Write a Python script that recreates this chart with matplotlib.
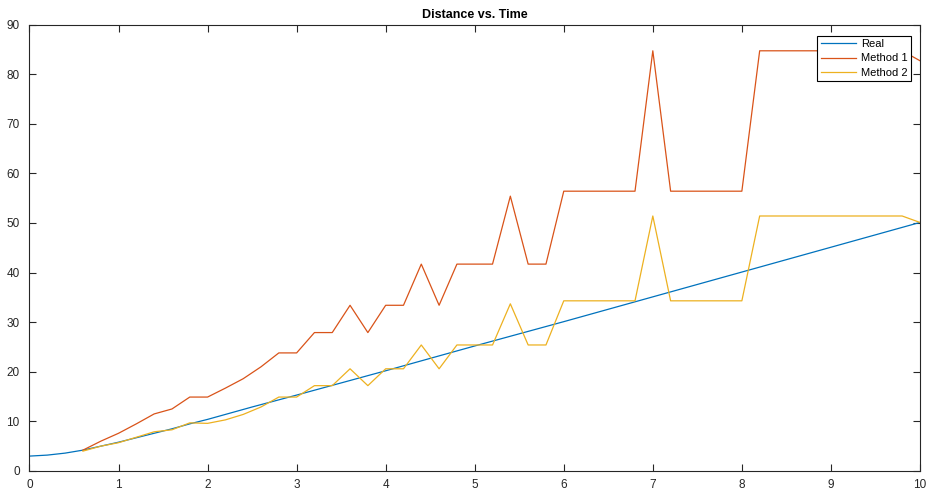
import numpy as np
from matplotlib import pyplot as plt

plt.rcParams['font.family'] = ['Liberation Sans', 'DejaVu Sans']

# real distance
t_real = [0, 0.2, 0.4, 0.6, 0.8, 1.0, 1.2, 1.4, 1.6, 1.8, 2.0, 2.5, 3, 4, 5, 6, 7, 8, 9, 10]
d_real = [3.0, 3.2, 3.6, 4.2, 5.0, 5.8, 6.7, 7.6, 8.5, 9.5, 10.4, 12.9, 15.3, 20.2, 25.2,
          30.1, 35.1, 40.1, 45.1, 50.1]

# estimates, sampled every 0.2 from t=0.6
t_est = [round(0.6 + 0.2 * i, 1) for i in range(48)]
d_method1 = [4.2, 6.0, 7.6, 9.5, 11.5, 12.5, 14.9, 14.9, 16.7, 18.6, 21.0, 23.8, 23.8,
             27.9, 27.9, 33.4, 27.9, 33.4, 33.4, 41.7, 33.4, 41.7, 41.7, 41.7, 55.4, 41.7,
             41.7, 56.4, 56.4, 56.4, 56.4, 56.4, 84.7, 56.4, 56.4, 56.4, 56.4, 56.4, 84.7,
             84.7, 84.7, 84.7, 84.7, 84.7, 84.7, 84.7, 84.7, 82.7]
d_method2 = [4.0, 5.0, 5.7, 6.8, 7.9, 8.3, 9.7, 9.6, 10.3, 11.4, 12.9, 14.9, 14.9,
             17.2, 17.2, 20.6, 17.2, 20.6, 20.6, 25.4, 20.6, 25.4, 25.4, 25.4, 33.7, 25.4,
             25.4, 34.3, 34.3, 34.3, 34.3, 34.3, 51.4, 34.3, 34.3, 34.3, 34.3, 34.3, 51.4,
             51.4, 51.4, 51.4, 51.4, 51.4, 51.4, 51.4, 51.4, 50.1]

fig = plt.figure(figsize=(9.3, 4.94), dpi=100)
ax = fig.add_axes([0.0317, 0.0466, 0.9575, 0.9038])

ax.plot(t_real, d_real, color='#0072BD', lw=0.9, label='Real')
ax.plot(t_est, d_method1, color='#D95319', lw=0.9, label='Method 1')
ax.plot(t_est, d_method2, color='#EDB120', lw=0.9, label='Method 2')

ax.set_xlim(0, 10)
ax.set_ylim(0, 90)
ax.set_xticks(np.arange(0, 11, 1))
ax.set_yticks(np.arange(0, 91, 10))
ax.tick_params(direction='in', top=True, right=True, length=5, width=0.8,
               labelsize=8.5, colors='#262626')
ax.tick_params(axis='x', pad=6)
ax.tick_params(axis='y', pad=7)
for s in ax.spines.values():
    s.set_color('#262626')
    s.set_linewidth(0.8)

ax.set_title('Distance vs. Time', fontsize=9, fontweight='bold', pad=5)

leg = ax.legend(loc='upper right', bbox_to_anchor=(0.9896, 0.975), borderaxespad=0,
                fontsize=8, fancybox=False, framealpha=1, handlelength=3.2,
                handletextpad=0.4, labelspacing=0.4, borderpad=0.3)
leg.get_frame().set_edgecolor('black')
leg.get_frame().set_linewidth(0.8)

fig.savefig('out.png')
plt.close()
